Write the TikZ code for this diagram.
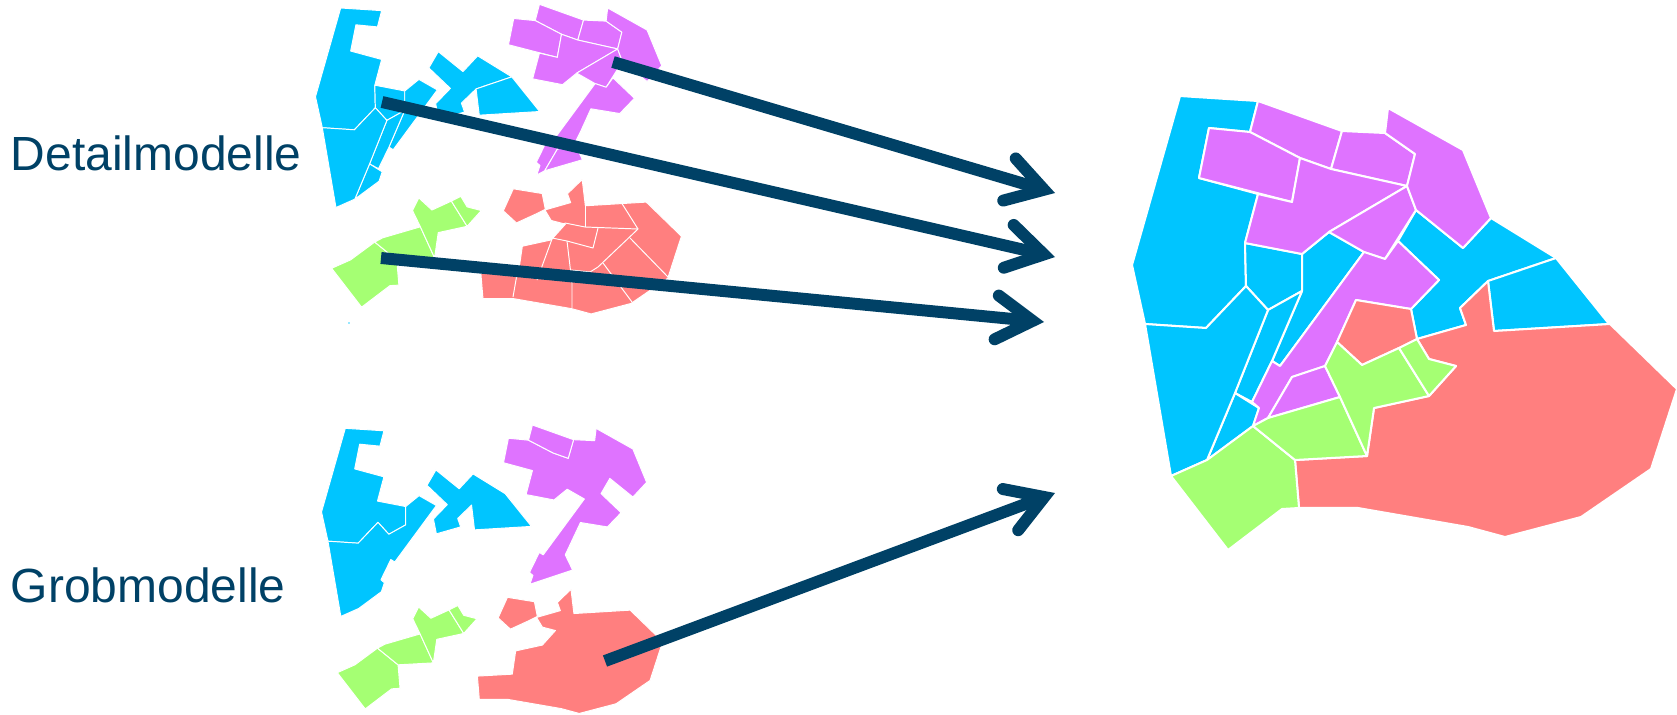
\documentclass[tikz,border=0pt]{standalone}
\usepackage{fontspec}
\setmainfont{Liberation Sans}
\usetikzlibrary{arrows.meta}

\definecolor{mapblue}{RGB}{0,197,255}
\definecolor{mappurple}{RGB}{223,115,255}
\definecolor{mapgreen}{RGB}{165,255,115}
\definecolor{mapred}{RGB}{255,127,127}
\definecolor{arrowblue}{RGB}{0,65,102}

% parts of the full map, in reference pixels
\newcommand{\blueA}{(1180,96) -- (1258,101) -- (1250,132) -- (1209,128) -- (1199,178) -- (1258,194) -- (1245,243) -- (1246,286) -- (1206,328) -- (1145,324) -- (1132,265) -- cycle}
\newcommand{\blueB}{(1245,243) -- (1302,254) -- (1302,291) -- (1268,310) -- (1246,286) -- cycle}
\newcommand{\blueC}{(1302,254) -- (1329,232) -- (1364,252) -- (1280,366) -- (1272,361) -- (1302,291) -- cycle}
\newcommand{\blueD}{(1268,310) -- (1302,291) -- (1272,361) -- (1252,402) -- (1235,393) -- cycle}
\newcommand{\blueE}{(1235,393) -- (1259,408) -- (1253,426) -- (1207,460) -- cycle}
\newcommand{\blueF}{(1145,324) -- (1206,328) -- (1246,286) -- (1268,310) -- (1235,393) -- (1207,460) -- (1171,476) -- cycle}
\newcommand{\blueG}{(1416,210) -- (1463,248) -- (1491,218) -- (1556,258) -- (1488,281) -- (1460,308) -- (1466,325) -- (1417,339) -- (1411,309) -- (1439,280) -- (1398,241) -- cycle}
\newcommand{\blueH}{(1556,258) -- (1609,324) -- (1494,331) -- (1488,281) -- cycle}
\newcommand{\purpleA}{(1258,101) -- (1342,131) -- (1331,169) -- (1300,158) -- (1250,132) -- cycle}
\newcommand{\purpleB}{(1209,128) -- (1250,132) -- (1300,158) -- (1292,202) -- (1199,178) -- cycle}
\newcommand{\purpleC}{(1342,131) -- (1385,133) -- (1415,154) -- (1407,186) -- (1331,169) -- cycle}
\newcommand{\purpleD}{(1300,158) -- (1331,169) -- (1407,186) -- (1329,232) -- (1302,254) -- (1245,243) -- (1258,194) -- (1292,202) -- cycle}
\newcommand{\purpleE}{(1407,186) -- (1416,210) -- (1385,259) -- (1364,252) -- (1329,232) -- cycle}
\newcommand{\purpleF}{(1388,108) -- (1463,150) -- (1491,218) -- (1463,248) -- (1416,210) -- (1407,186) -- (1415,154) -- (1385,133) -- cycle}
\newcommand{\purpleG}{(1398,241) -- (1439,280) -- (1411,309) -- (1356,300) -- (1337,342) -- (1325,366) -- (1292,377) -- (1268,418) -- (1253,426) -- (1259,408) -- (1252,402) -- (1272,361) -- (1280,366) -- (1364,252) -- (1385,259) -- cycle}
\newcommand{\purpleH}{(1292,377) -- (1325,366) -- (1340,397) -- (1268,418) -- cycle}
\newcommand{\redA}{(1356,300) -- (1411,309) -- (1417,339) -- (1399,348) -- (1362,365) -- (1337,342) -- cycle}
\newcommand{\redB}{(1488,281) -- (1494,331) -- (1610,324) -- (1677,389) -- (1651,469) -- (1581,517) -- (1505,537) -- (1468,527) -- (1358,508) -- (1299,508) -- (1295,460) -- (1367,456) -- (1374,408) -- (1429,396) -- (1456,366) -- (1429,359) -- (1417,339) -- (1466,325) -- (1460,308) -- cycle}
\newcommand{\greenA}{(1171,476) -- (1207,460) -- (1253,426) -- (1295,460) -- (1299,508) -- (1282,509) -- (1228,550) -- cycle}
\newcommand{\greenB}{(1253,426) -- (1268,418) -- (1340,397) -- (1367,456) -- (1295,460) -- cycle}
\newcommand{\greenC}{(1325,366) -- (1337,342) -- (1362,365) -- (1399,348) -- (1429,396) -- (1374,408) -- (1367,456) -- (1340,397) -- cycle}
\newcommand{\greenD}{(1399,348) -- (1417,339) -- (1429,359) -- (1456,366) -- (1429,396) -- cycle}
% merged parts of the coarse models
\newcommand{\coarseBlueA}{(1180,96) -- (1258,101) -- (1250,132) -- (1209,128) -- (1199,178) -- (1258,194) -- (1245,243) -- (1302,254) -- (1302,291) -- (1268,310) -- (1246,286) -- (1206,328) -- (1145,324) -- (1132,265) -- cycle}
\newcommand{\coarseBlueB}{(1145,324) -- (1206,328) -- (1246,286) -- (1268,310) -- (1302,291) -- (1302,254) -- (1329,232) -- (1364,252) -- (1280,366) -- (1272,361) -- (1252,402) -- (1259,408) -- (1253,426) -- (1207,460) -- (1171,476) -- cycle}
\newcommand{\coarseBlueC}{(1416,210) -- (1463,248) -- (1491,218) -- (1556,258) -- (1609,324) -- (1494,331) -- (1488,281) -- (1460,308) -- (1466,325) -- (1417,339) -- (1411,309) -- (1439,280) -- (1398,241) -- cycle}
\newcommand{\coarsePurple}{(1209,128) -- (1250,132) -- (1300,158) -- (1331,169) -- (1342,131) -- (1385,133) -- (1388,108) -- (1463,150) -- (1491,218) -- (1463,248) -- (1416,210) -- (1398,241) -- (1439,280) -- (1411,309) -- (1356,300) -- (1325,366) -- (1340,397) -- (1253,426) -- (1259,408) -- (1252,402) -- (1272,361) -- (1280,366) -- (1364,252) -- (1329,232) -- (1302,254) -- (1245,243) -- (1258,194) -- (1199,178) -- cycle}
\newcommand{\coarsePurpleTop}{(1250,132) -- (1258,101) -- (1342,131) -- (1331,169) -- (1300,158) -- cycle}

\begin{document}
\begin{tikzpicture}[
          x=0.02cm, y=-0.02cm, line width=0.55pt,
          blue part/.style={fill=mapblue, draw=white, line join=round},
          purple part/.style={fill=mappurple, draw=white, line join=round},
          green part/.style={fill=mapgreen, draw=white, line join=round},
          red part/.style={fill=mapred, draw=white, line join=round},
          seam/.style={draw=white, line join=round},
          modelname/.style={anchor=base west, inner sep=0pt, text=arrowblue, font=\fontsize{27.3pt}{30pt}\selectfont},
          arr/.style={-{Straight Barb[length=20.5pt, width=25pt, line cap=round, line join=miter]}, draw=arrowblue, line width=6.8pt}
      ]
        \useasboundingbox (0,0) rectangle (1677,714);
        \node[modelname] (detail) at (10.5,170) {Detailmodelle};
        \node[modelname] (coarse) at (10.5,602) {Grobmodelle};
        % full map
        \begin{scope}[line width=1.15pt]
          \draw[blue part] \blueA; \draw[blue part] \blueB; \draw[blue part] \blueC; \draw[blue part] \blueD;
          \draw[blue part] \blueE; \draw[blue part] \blueF; \draw[blue part] \blueG; \draw[blue part] \blueH;
          \draw[purple part] \purpleA; \draw[purple part] \purpleB; \draw[purple part] \purpleC; \draw[purple part] \purpleD;
          \draw[purple part] \purpleE; \draw[purple part] \purpleF; \draw[purple part] \purpleG; \draw[purple part] \purpleH;
          \draw[red part] \redA; \draw[red part] \redB;
          \draw[green part] \greenA; \draw[green part] \greenB; \draw[green part] \greenC; \draw[green part] \greenD;
        \end{scope}
        % detail models
        \begin{scope}[shift={(-278.8,-42.4)}, scale=0.525]
          \draw[blue part] \blueA; \draw[blue part] \blueB; \draw[blue part] \blueC;
          \draw[blue part] \blueD; \draw[blue part] \blueE; \draw[blue part] \blueF;
        \end{scope}
        \begin{scope}[shift={(-305.1,-58.6)}, scale=0.525]
          \draw[blue part] \blueG; \draw[blue part] \blueH;
        \end{scope}
        \begin{scope}[shift={(-121,-48.7)}, scale=0.525]
          \draw[purple part] \purpleA; \draw[purple part] \purpleB; \draw[purple part] \purpleC; \draw[purple part] \purpleD;
          \draw[purple part] \purpleE; \draw[purple part] \purpleF; \draw[purple part] \purpleG; \draw[purple part] \purpleH;
        \end{scope}
        \begin{scope}[shift={(-283.1,18.4)}, scale=0.525]
          \draw[green part] \greenA; \draw[green part] \greenB; \draw[green part] \greenC; \draw[green part] \greenD;
        \end{scope}
        \begin{scope}[shift={(-198.6,31.3)}, scale=0.525]
          \draw[red part] \redA;
        \end{scope}
        \begin{scope}[shift={(-199,32)}, scale=0.525]
          \draw[red part] \redB;
        \end{scope}
        \draw[seam] (585,203) -- (585,227);
        \draw[seam] (621,202) -- (638,229);
        \draw[seam] (565,223) -- (585,227) -- (638,229) -- (598,267) -- (590,272) -- (571,270);
        \draw[seam] (598,228) -- (593,248) -- (567,241) -- (552,238) -- (565,223);
        \draw[seam] (552,239) -- (537,280);
        \draw[seam] (520,257) -- (513,297);
        \draw[seam] (567,241) -- (572,283) -- (572,308);
        \draw[seam] (630,238) -- (668,277);
        \draw[seam] (603,263) -- (632,302);
        \fill[mapblue!40] (348,322) rectangle (350,324);
        % coarse models
        \begin{scope}[shift={(-238.8,380.8)}, scale=0.495]
          \draw[blue part] \coarseBlueA; \draw[blue part] \coarseBlueB;
        \end{scope}
        \begin{scope}[shift={(-265,366)}, scale=0.495]
          \draw[blue part] \coarseBlueC;
        \end{scope}
        \begin{scope}[shift={(-84,375.5)}, scale=0.49]
          \draw[purple part] \coarsePurple; \draw[purple part] \coarsePurpleTop;
        \end{scope}
        \begin{scope}[shift={(-236.5,439.4)}, scale=0.49]
          \draw[green part] \greenA; \draw[green part] \greenB; \draw[green part] \greenC; \draw[green part] \greenD;
        \end{scope}
        \begin{scope}[shift={(-157,450.3)}, scale=0.49]
          \draw[red part] \redA;
        \end{scope}
        \begin{scope}[shift={(-150.7,453)}, scale=0.485]
          \draw[red part] \redB;
        \end{scope}
        % arrows
        \coordinate (purplefrom) at (613,62);
        \coordinate (purpleto) at (1055,193);
        \coordinate (bluefrom) at (382,102);
        \coordinate (blueto) at (1055,257);
        \coordinate (greenfrom) at (381,258);
        \coordinate (greento) at (1044,322);
        \coordinate (redfrom) at (605,661);
        \coordinate (redto) at (1055,493);
        \draw[arr] (purplefrom) -- (purpleto);
        \draw[arr] (bluefrom) -- (blueto);
        \draw[arr] (greenfrom) -- (greento);
        \draw[arr] (redfrom) -- (redto);
      \end{tikzpicture}
\end{document}
